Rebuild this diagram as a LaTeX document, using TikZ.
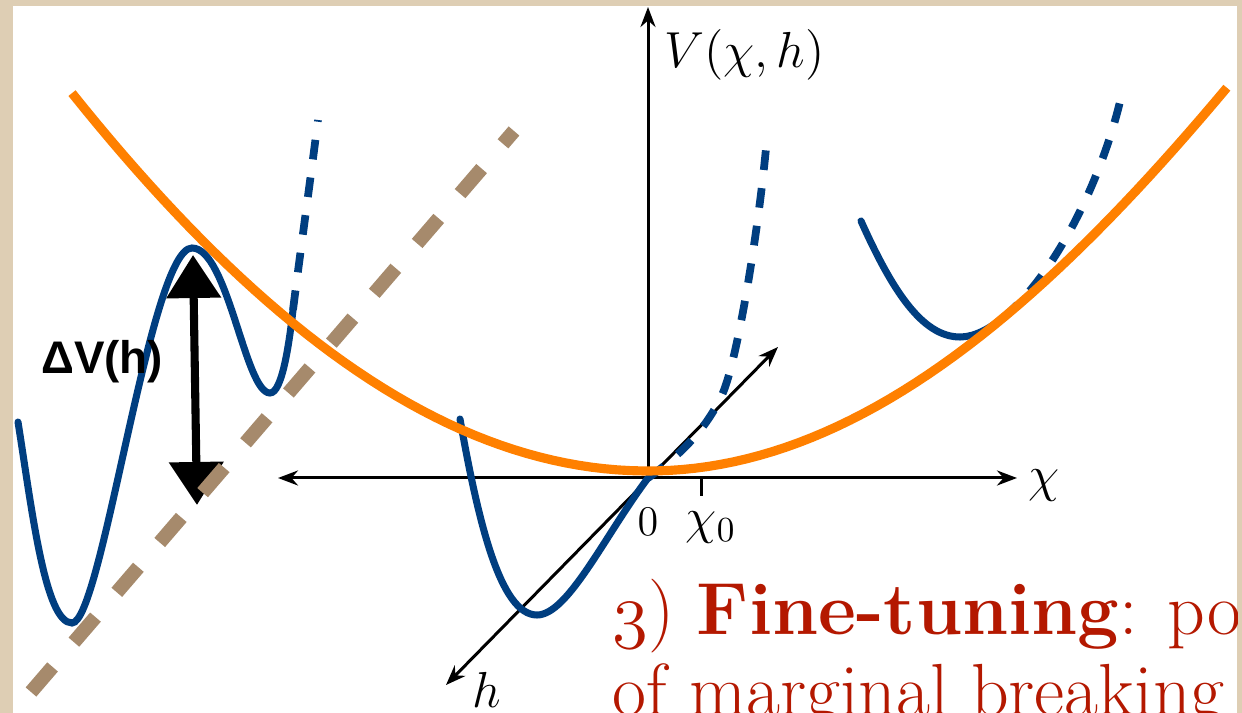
\documentclass[tikz,border=0pt]{standalone}
\usepackage{amsmath}
\usepackage{fontspec}
\usetikzlibrary{arrows.meta}
\newfontfamily\labelfont{Liberation Sans}
\newcommand{\oldthree}{{\fontencoding{OML}\fontfamily{cmm}\fontseries{m}\fontshape{it}\selectfont 3}}
\definecolor{slidebeige}{RGB}{222,206,180}
\definecolor{potblue}{RGB}{0,62,128}
\definecolor{potorange}{RGB}{255,128,0}
\definecolor{flatbrown}{RGB}{166,138,108}
\definecolor{tuningred}{RGB}{180,24,0}
\tikzset{
  axisline/.style={line width=0.85pt},
  potline/.style={potblue, line width=2pt, line cap=round},
  potdash/.style={potblue, line width=2.2pt, dash pattern=on 5.6pt off 5.2pt},
  envelope/.style={potorange, line width=2.6pt},
  flatdir/.style={flatbrown, line width=4pt, dash pattern=on 9.4pt off 9.3pt},
  barrier/.style={line width=2.3pt, {Triangle[length=0.43cm,width=0.53cm]}-{Triangle[length=0.43cm,width=0.53cm]}}
}
\begin{document}
\begin{tikzpicture}[x=0.01cm, y=-0.01cm, >={Stealth[length=0.2cm,width=0.15cm]}]
\useasboundingbox (0,0) rectangle (1242,713);
% Slide frame
\fill[slidebeige] (0,0) rectangle (1242,713);
\fill[white] (13,6) rectangle (1237,713);
\begin{scope}
\clip (13,6) rectangle (1237,713);
% Axes
\coordinate (O) at (648,478);
\coordinate (vtop) at (648,7);
\coordinate (xleft) at (278,478);
\coordinate (xright) at (1017,478);
\coordinate (hfront) at (446,685);
\coordinate (hback) at (778,347);
\coordinate (ticktop) at (701,478);
\coordinate (tickbot) at (701,496);
\draw[axisline, ->] (O) -- (vtop);
\draw[axisline, <->] (xleft) -- (xright);
\draw[axisline, <->] (hfront) -- (hback);
\draw[axisline] (ticktop) -- (tickbot);
% Potential for large h
\draw[potline] (18,422) .. controls (32,510) and (45,623) .. (72,623)
  .. controls (102,623) and (150,248) .. (192,248)
  .. controls (228,248) and (245,393) .. (270,393)
  .. controls (282,393) and (289,345) .. (293,310);
\draw[potdash] (293,310) .. controls (299,262) and (311,175) .. (318,120);
% Potential near h = 0
\draw[potline] (460,419) .. controls (478,520) and (500,615) .. (537,615)
  .. controls (568,615) and (605,535) .. (648,478);
\draw[potdash] (648,478) .. controls (685,452) and (708,425) .. (722,395)
  .. controls (738,360) and (760,220) .. (767,137);
% Potential for negative h
\draw[potline] (861,221) .. controls (892,290) and (922,337) .. (960,337)
  .. controls (975,337) and (990,328) .. (1003,318);
\draw[potdash] (1003,318) .. controls (1060,270) and (1105,170) .. (1122,93);
% Barrier height
\coordinate (dvtop) at (193,255);
\coordinate (dvbot) at (197,505);
\draw[barrier] (dvbot) -- (dvtop);
% Envelope of minima
\draw[envelope] plot[domain=-5.76:5.79, samples=90]
  ({648+100*\x}, {471-((\x<0) ? (11.94*\x*\x-0.0166*\x*\x*\x*\x) : (12.57*\x*\x-0.0338*\x*\x*\x*\x))});
% Flat direction
\coordinate (flatlow) at (31,692);
\coordinate (flathigh) at (514,131);
\draw[flatdir] (flatlow) -- (flathigh);
% Labels
\node[font=\fontsize{15.5}{18}\selectfont, anchor=west] (vlabel) at (652,55) {$V(\chi,h)$};
\node[font=\fontsize{15}{18}\selectfont] (chilabel) at (1044,486) {$\chi$};
\node[font=\fontsize{12.5}{15}\selectfont] (zerolabel) at (648,522) {$0$};
\node[font=\fontsize{14}{17}\selectfont] (chizero) at (711,528) {$\chi_0$};
\node[font=\fontsize{14}{17}\selectfont] (hlabel) at (487,690) {$h$};
\node[font=\labelfont\bfseries\fontsize{13}{16}\selectfont] (dvlabel) at (102,362) {ΔV(h)};
\node[anchor=base west, inner sep=0pt, text=tuningred, align=left,
      font=\fontsize{21}{23.3}\selectfont] (finetune) at (612,716)
  {\oldthree) \textbf{Fine-tuning}: point\\of marginal breaking};
\end{scope}
\end{tikzpicture}
\end{document}
